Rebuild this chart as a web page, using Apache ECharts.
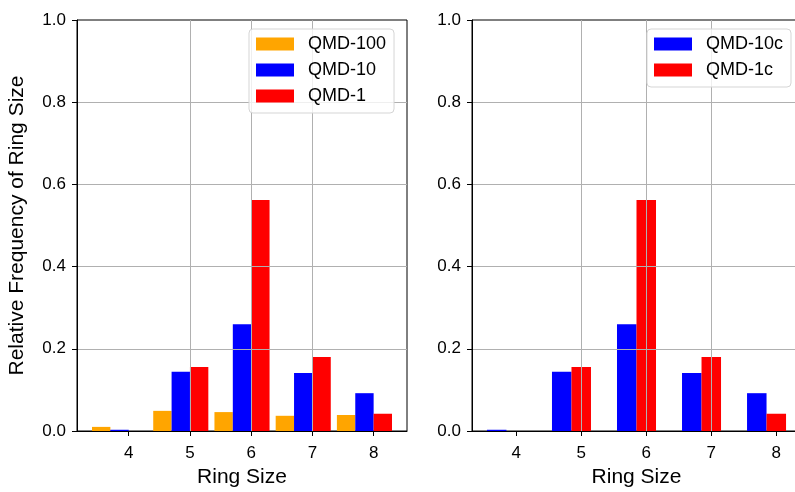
<!DOCTYPE html>
<html>
<head>
<meta charset="utf-8">
<script src="https://cdn.jsdelivr.net/npm/echarts@6/dist/echarts.min.js"></script>
<style>
    html, body { margin: 0; padding: 0; background: #fff; }
    #chart { width: 795px; height: 492px; }
</style>
</head>
<body>
<div id="chart"></div>
<script>
// ring sizes on the x axis
var ringSizes = [4, 5, 6, 7, 8];
var yTicks = [0, 0.2, 0.4, 0.6, 0.8, 1.0];

// relative frequencies
var qmd100 = [0.010, 0.049, 0.046, 0.037, 0.039];
var qmd10 = [0.003, 0.144, 0.260, 0.141, 0.092];
var qmd1 = [0.000, 0.156, 0.562, 0.180, 0.042];
var qmd10c = [0.003, 0.144, 0.260, 0.141, 0.092];
var qmd1c = [0.000, 0.156, 0.562, 0.180, 0.042];

var BAR_W = 0.3;
var FONT = 'Liberation Sans, Arial, Helvetica, sans-serif';

var chart = echarts.init(document.getElementById('chart'));

function pairs(vals) {
    return ringSizes.map(function(r, i) { return [r, vals[i]]; });
}

// draw a bar from (ring + offset) to (ring + offset + BAR_W) in data units
function barRenderer(offset) {
    return function(params, api) {
        var x = api.value(0), y = api.value(1);
        var p0 = api.coord([x + offset, y]);
        var p1 = api.coord([x + offset + BAR_W, 0]);
        return {
            type: 'rect',
            shape: { x: p0[0], y: p0[1], width: p1[0] - p0[0], height: p1[1] - p0[1] },
            style: { fill: api.visual('color') }
        };
    };
}

function barSeries(name, vals, offset, color, idx) {
    return {
        name: name,
        type: 'custom',
        xAxisIndex: idx,
        yAxisIndex: idx,
        z: 1,
        itemStyle: { color: color },
        renderItem: barRenderer(offset),
        encode: { x: 0, y: 1 },
        data: pairs(vals)
    };
}

function xAxisOpt(idx, min, max) {
    return {
        type: 'value',
        gridIndex: idx,
        min: min,
        max: max,
        z: 3,
        name: 'Ring Size',
        nameLocation: 'middle',
        nameGap: 36,
        nameTextStyle: { fontSize: 21, color: '#000', fontFamily: FONT },
        axisLine: { onZero: false, lineStyle: { color: '#000', width: 1 } },
        axisTick: { show: true, length: 5, lineStyle: { color: '#000' }, customValues: ringSizes },
        axisLabel: { fontSize: 17, color: '#000', fontFamily: FONT, margin: 14, customValues: ringSizes },
        splitLine: { show: true, showMinLine: false, showMaxLine: false, lineStyle: { color: '#b0b0b0', width: 1 } }
    };
}

function yAxisOpt(idx, title) {
    return {
        type: 'value',
        gridIndex: idx,
        min: yTicks[0],
        max: yTicks[yTicks.length - 1],
        interval: 0.2,
        z: 3,
        name: title,
        nameLocation: 'middle',
        nameGap: 49,
        nameTextStyle: { fontSize: 21, color: '#000', fontFamily: FONT },
        axisLine: { show: true, lineStyle: { color: '#000', width: 1 } },
        axisTick: { show: true, length: 5, lineStyle: { color: '#000' } },
        axisLabel: {
            fontSize: 17, color: '#000', fontFamily: FONT, margin: 11,
            formatter: function(v) { return v.toFixed(1); }
        },
        splitLine: { show: true, showMinLine: false, showMaxLine: false, lineStyle: { color: '#b0b0b0', width: 1 } }
    };
}

function legendOpt(names, left) {
    return {
        data: names,
        orient: 'vertical',
        left: left,
        top: 29,
        icon: 'rect',
        itemWidth: 38,
        itemHeight: 13,
        itemGap: 8,
        padding: [6, 8, 8, 7],
        backgroundColor: 'rgba(255,255,255,0.8)',
        borderColor: '#d5d5d5',
        borderWidth: 1,
        borderRadius: 4,
        selectedMode: false,
        textStyle: { fontSize: 18, color: '#000', fontFamily: FONT, padding: [0, 0, 0, 9] }
    };
}

var option = {
    backgroundColor: '#fff',
    animation: false,
    grid: [
        { left: 77, top: 20, width: 330, height: 411, outerBoundsMode: 'none', show: true, borderColor: '#000', borderWidth: 1, backgroundColor: 'transparent' },
        { left: 472, top: 20, width: 329, height: 411, outerBoundsMode: 'none', show: true, borderColor: '#000', borderWidth: 1, backgroundColor: 'transparent' }
    ],
    legend: [
        legendOpt(['QMD-100', 'QMD-10', 'QMD-1'], 249),
        legendOpt(['QMD-10c', 'QMD-1c'], 647)
    ],
    xAxis: [xAxisOpt(0, 3.155, 8.545), xAxisOpt(1, 3.32, 8.38)],
    yAxis: [yAxisOpt(0, 'Relative Frequency of Ring Size'), yAxisOpt(1, '')],
    series: [
        barSeries('QMD-100', qmd100, -0.6, '#ffa500', 0),
        barSeries('QMD-10', qmd10, -0.3, '#0000ff', 0),
        barSeries('QMD-1', qmd1, 0, '#ff0000', 0),
        barSeries('QMD-10c', qmd10c, -0.45, '#0000ff', 1),
        barSeries('QMD-1c', qmd1c, -0.15, '#ff0000', 1)
    ]
};

chart.setOption(option);
</script>
</body>
</html>
